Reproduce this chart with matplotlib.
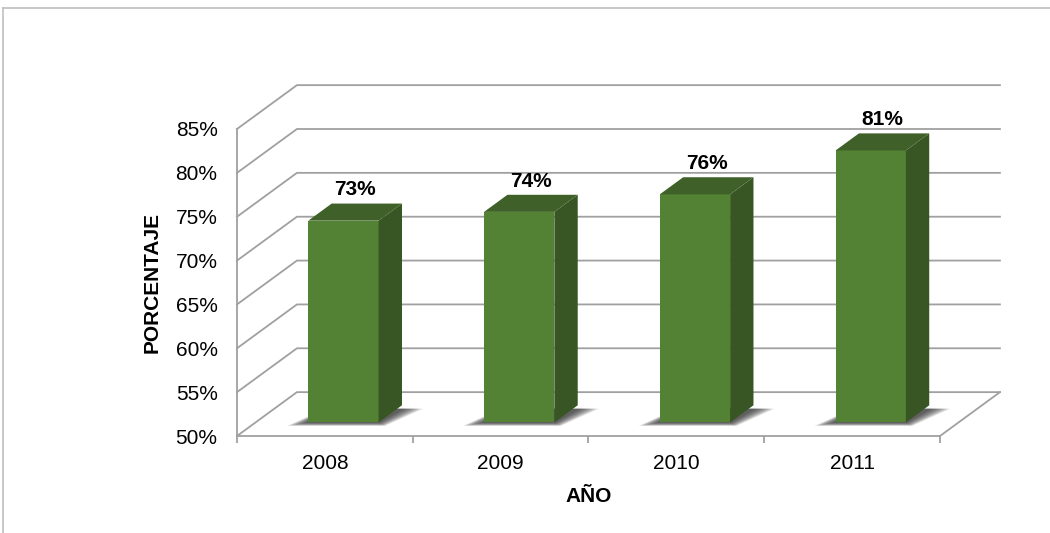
import matplotlib
matplotlib.use("Agg")
import matplotlib.pyplot as plt
from matplotlib.patches import Polygon
from matplotlib.lines import Line2D

plt.rcParams['font.family'] = ['Liberation Sans', 'DejaVu Sans']

# data
years = ['2008', '2009', '2010', '2011']
values = [73, 74, 76, 81]
labels = ['73%', '74%', '76%', '81%']
yticks = [50, 55, 60, 65, 70, 75, 80, 85]

# 3D look (depth vector in data units)
ddx, ddy = 0.341, 5.0
f0, depth = 0.31, 0.39
bar_w = 0.4
grid_c = '#a0a0a0'
c_front, c_side, c_top = '#548235', '#375623', '#3f6129'

fig = plt.figure(figsize=(10.5, 5.33), dpi=100)
ax = fig.add_axes([237/1050, (533-436)/533, 703/1050, 307/533])
ax.set_xlim(-0.5, 3.5)
ax.set_ylim(50, 85)

# outer chart border (cut off at right/bottom)
fig.add_artist(Line2D([3/1050, 1.0], [1 - 8/533]*2, color='#bfbfbf', lw=1.2))
fig.add_artist(Line2D([3/1050]*2, [0, 1 - 8/533], color='#bfbfbf', lw=1.2))

# back wall gridlines + side wall diagonals
for v in yticks:
    ax.plot([-0.5, -0.5 + ddx, 3.5 + ddx], [v, v + ddy, v + ddy],
            color=grid_c, lw=1.3, clip_on=False, zorder=1)
# right edge of floor
ax.plot([3.5, 3.5 + ddx], [50, 50 + ddy], color=grid_c, lw=1.3, clip_on=False, zorder=1)

# bars
for i, v in enumerate(values):
    xl = i - bar_w / 2 + f0 * ddx
    xr = xl + bar_w
    yb = 50 + f0 * ddy
    yt = v + f0 * ddy
    ox, oy = depth * ddx, depth * ddy

    # soft shadow on floor
    n = 10
    for k in range(n):
        e = 0.12 * (1 - k / n)
        ey = 0.4 * (1 - k / n)
        shadow = Polygon([(xl - e, yb - ey), (xr + e * 0.3, yb - ey),
                          (xr + ox + e, yb + oy * 0.8), (xl + ox - e * 0.3, yb + oy * 0.8)],
                         closed=True, facecolor='#262626', edgecolor='none', alpha=0.12,
                         clip_on=False, zorder=2)
        ax.add_patch(shadow)

    front = Polygon([(xl, yb), (xr, yb), (xr, yt), (xl, yt)], closed=True,
                    facecolor=c_front, edgecolor='none', clip_on=False, zorder=3)
    side = Polygon([(xr, yb), (xr + ox, yb + oy), (xr + ox, yt + oy), (xr, yt)], closed=True,
                   facecolor=c_side, edgecolor='none', clip_on=False, zorder=3)
    top = Polygon([(xl, yt), (xr, yt), (xr + ox, yt + oy), (xl + ox, yt + oy)], closed=True,
                  facecolor=c_top, edgecolor='none', clip_on=False, zorder=3)
    for p in (front, side, top):
        ax.add_patch(p)

    ax.annotate(labels[i], xy=(i + (f0 + depth / 2) * ddx, yt + oy), xytext=(0, 3),
                textcoords='offset points', ha='center', va='bottom',
                fontsize=15, fontweight='bold', annotation_clip=False, zorder=5)

# axes styling
for s in ('top', 'right'):
    ax.spines[s].set_visible(False)
for s in ('left', 'bottom'):
    ax.spines[s].set_color(grid_c)
    ax.spines[s].set_linewidth(1.3)
ax.set_facecolor('none')

ax.set_yticks(yticks)
ax.set_yticklabels([f'{t}%' for t in yticks], fontsize=15)
ax.tick_params(axis='y', length=0, pad=14)

ax.set_xticks([-0.5, 0.5, 1.5, 2.5, 3.5])
ax.set_xticklabels([])
ax.tick_params(axis='x', which='major', length=5, color=grid_c, width=1.3)
ax.set_xticks(range(len(years)), minor=True)
ax.set_xticklabels(years, minor=True, fontsize=15)
ax.tick_params(axis='x', which='minor', length=0, pad=13)

ax.set_xlabel('AÑO', fontsize=15, fontweight='bold', labelpad=10)
ax.set_ylabel('PORCENTAJE', fontsize=15, fontweight='bold', labelpad=10)

fig.savefig('out.png', dpi=100)
